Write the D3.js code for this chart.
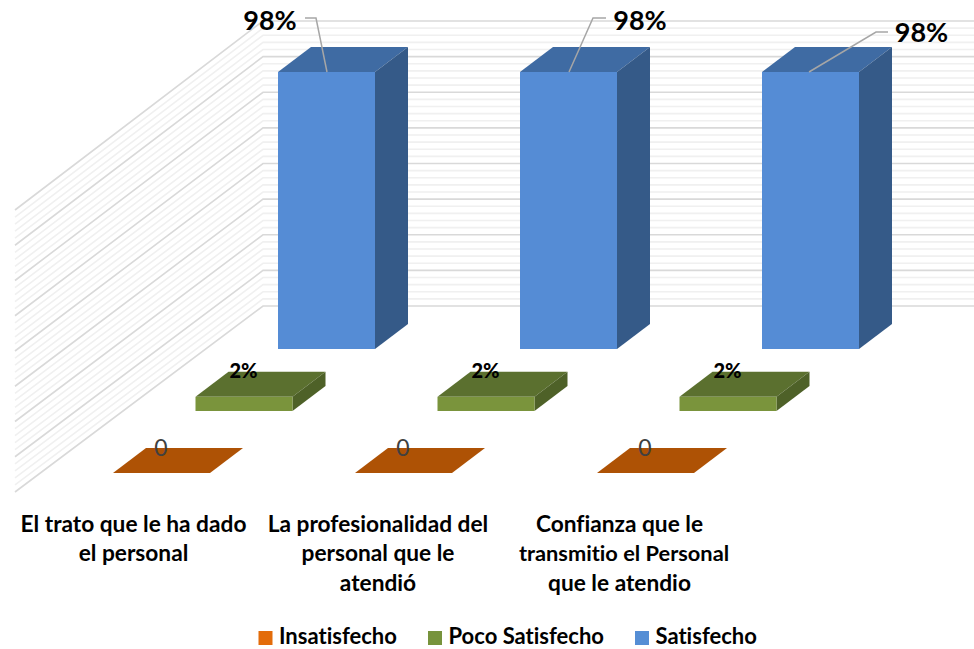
<!DOCTYPE html>
<html><head><meta charset="utf-8">
<script src="https://cdnjs.cloudflare.com/ajax/libs/d3/7.8.5/d3.min.js"></script>
<style>html,body{margin:0;background:#fff}svg{display:block}text{font-family:Lato,"Open Sans",sans-serif;font-variant-ligatures:none}</style>
</head><body><svg id="c" width="974" height="649"></svg>
<script>
const categories = ["El trato que le ha dado el personal","La profesionalidad del personal que le atendió","Confianza que le transmitio el Personal que le atendio"];
const categoryLines = [["El trato que le ha dado","el personal"],["La profesionalidad del","personal que le","atendió"],["Confianza que le","transmitio el Personal","que le atendio"]];
const series = ["Insatisfecho","Poco Satisfecho","Satisfecho"];
const drawnHeights = [0,5,98];          // height
const labelTexts = ["0","2%","98%"];    // labels as printed
const gridLevels = d3.range(0,8.01,0.2);

const faceFront = ["#ae5205","#7a943c","#558cd5"];
const faceTop   = ["#ae5205","#5b702f","#3f6ba3"];
const faceSide  = ["#ae5205","#4e6128","#355a88"];
const legendCol = ["#e36c0a","#77933c","#558ed5"];

const svg = d3.select("#c");
const x = d3.scalePoint().domain(categories).range([0,484]);
const depth = d3.scalePoint().domain(series).range([0,1]);
const h = d3.scaleLinear().domain([0,98]).range([0,277]);
const grid = d3.scaleLinear().domain([0,8]).range([306,21]);

const barW=97, dx=33, dy=-25;
const frontX = s => 113 + depth(s)*165;
const frontY = s => 473 - depth(s)*124;

// walls
const floorDY=186, topDY=189;
const g = svg.append("g").attr("fill","none");
gridLevels.forEach((lv,i)=>{
  const major = i%5===0;
  const y=grid(lv);
  const t=lv/8;
  const leftY = y + floorDY + (topDY-floorDY)*t;
  g.append("path").attr("d",d3.line()([[15,leftY],[263,y],[974,y]]))
   .attr("stroke",major?"#d9d9d9":"#f0f0f0").attr("stroke-width",1.6);
});

// bars: back row first
[...series].reverse().forEach(s=>{
  const idx=series.indexOf(s);
  categories.forEach(c=>{
    const x0=frontX(s)+x(c), y0=frontY(s), ht=h(drawnHeights[idx]), x1=x0+barW, yt=y0-ht;
    const b=svg.append("g");
    b.append("polygon").attr("fill",faceTop[idx]).attr("points",[[x0,yt],[x1,yt],[x1+dx,yt+dy],[x0+dx,yt+dy]].join(" "));
    if(ht>0){
      b.append("polygon").attr("fill",faceSide[idx]).attr("points",[[x1,yt],[x1+dx,yt+dy],[x1+dx,y0+dy],[x1,y0]].join(" "));
      b.append("rect").attr("x",x0).attr("y",yt).attr("width",barW).attr("height",ht).attr("fill",faceFront[idx]);
    }
  });
});

// data labels
const bigLabelPos = [[270,21],[640,21],[921.5,33]];
const leaders = [[[305,18],[316,18],[327,72]],[[606,18],[593,18],[569,72]],[[888,32],[876,32],[809,72]]];
leaders.forEach(p=>svg.append("path").attr("d",d3.line()(p)).attr("fill","none").attr("stroke","#a6a6a6").attr("stroke-width",1.5));
bigLabelPos.forEach(p=>svg.append("text").attr("x",p[0]).attr("y",p[1]).attr("dy","0.35em").attr("text-anchor","middle")
  .attr("font-size",27).attr("font-weight",700).attr("fill","#000").text(labelTexts[2]));
categories.forEach(c=>{
  svg.append("text").attr("x",243.5+x(c)).attr("y",370.5).attr("dy","0.35em").attr("text-anchor","middle")
    .attr("font-size",20).attr("font-weight",900).attr("fill","#000").text(labelTexts[1]);
  svg.append("text").attr("x",161+x(c)).attr("y",447.5).attr("dy","0.35em").attr("text-anchor","middle")
    .attr("font-size",23).attr("fill","#404040").text(labelTexts[0]);
});

// category labels
const catCx=[[133.5,133.5],[378,378,378],[619.5,624,619.5]];
categoryLines.forEach((ls,i)=>ls.forEach((t,j)=>
  svg.append("text").attr("x",catCx[i][j]).attr("y",524+j*29.3).attr("dy","0.35em").attr("text-anchor","middle")
   .attr("font-size",i===2&&j===1?21.8:22.7).attr("font-weight",700).attr("fill","#000").text(t)));

// legend
const legX=[258.5,428,635];
series.forEach((s,i)=>{
  svg.append("rect").attr("x",legX[i]).attr("y",631).attr("width",14).attr("height",14).attr("fill",legendCol[i]);
  svg.append("text").attr("x",legX[i]+20.5).attr("y",636.4).attr("dy","0.35em")
   .attr("font-size",22).attr("font-weight",700).attr("fill","#000").text(s);
});
</script></body></html>
